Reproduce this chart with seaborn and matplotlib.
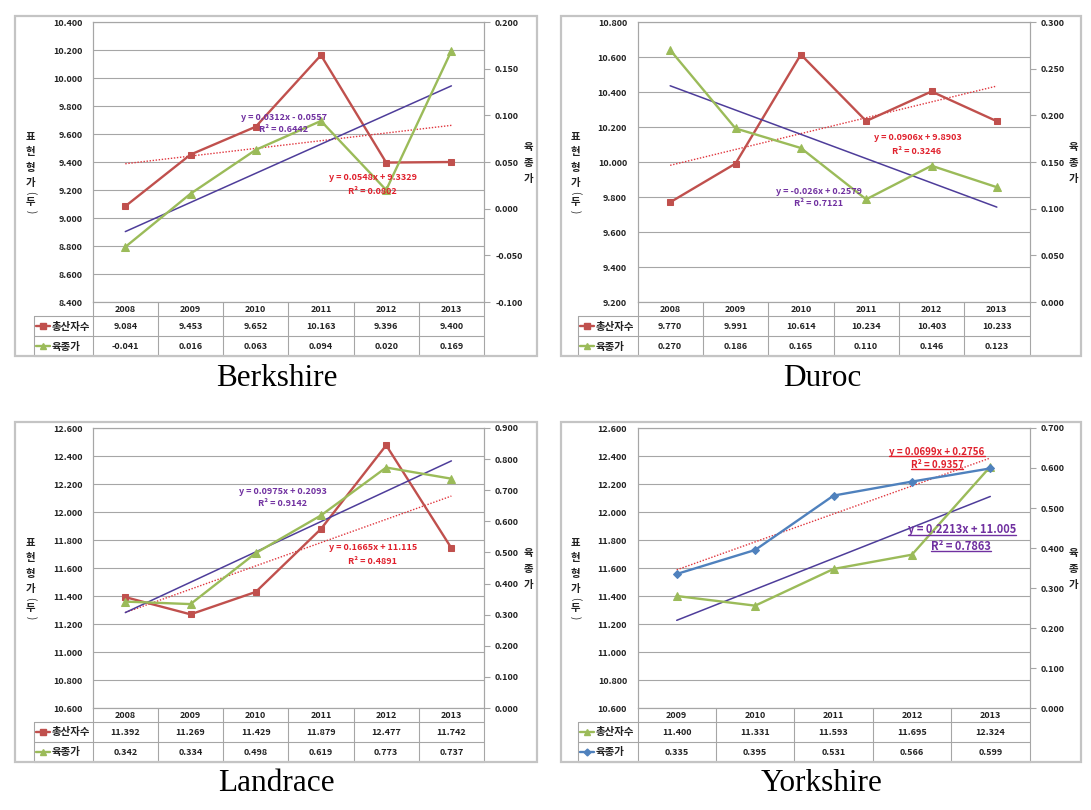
import numpy as np
import matplotlib
matplotlib.use("Agg")
import matplotlib.pyplot as plt
from matplotlib.lines import Line2D
from matplotlib.patches import Rectangle
import seaborn as sns

sns.set_style("white")
plt.rcParams['font.family'] = ['Noto Sans CJK KR', 'DejaVu Sans']

# ---------------- data ----------------
years_bld = ["2008", "2009", "2010", "2011", "2012", "2013"]
years_york = ["2009", "2010", "2011", "2012", "2013"]

berk_total = [9.084, 9.453, 9.652, 10.163, 9.396, 9.400]
berk_breed = [-0.041, 0.016, 0.063, 0.094, 0.020, 0.169]
berk_total_lbl = ["9.084", "9.453", "9.652", "10.163", "9.396", "9.400"]
berk_breed_lbl = ["-0.041", "0.016", "0.063", "0.094", "0.020", "0.169"]

duroc_total = [9.770, 9.991, 10.614, 10.234, 10.403, 10.233]
duroc_breed = [0.270, 0.186, 0.165, 0.110, 0.146, 0.123]
duroc_total_lbl = ["9.770", "9.991", "10.614", "10.234", "10.403", "10.233"]
duroc_breed_lbl = ["0.270", "0.186", "0.165", "0.110", "0.146", "0.123"]

land_total = [11.392, 11.269, 11.429, 11.879, 12.477, 11.742]
land_breed = [0.342, 0.334, 0.498, 0.619, 0.773, 0.737]
land_total_lbl = ["11.392", "11.269", "11.429", "11.879", "12.477", "11.742"]
land_breed_lbl = ["0.342", "0.334", "0.498", "0.619", "0.773", "0.737"]

york_total = [11.400, 11.331, 11.593, 11.695, 12.324]
york_breed = [0.335, 0.395, 0.531, 0.566, 0.599]
york_total_lbl = ["11.400", "11.331", "11.593", "11.695", "12.324"]
york_breed_lbl = ["0.335", "0.395", "0.531", "0.566", "0.599"]

series_names = ["총산자수", "육종가"]
left_label = "표현형가(두)"
right_label = "육종가"

berk_eq = ["y = 0.0312x - 0.0557", "R² = 0.6442", "y = 0.0548x + 9.3329", "R² = 0.0802"]
duroc_eq = ["y = -0.026x + 0.2579", "R² = 0.7121", "y = 0.0906x + 9.8903", "R² = 0.3246"]
land_eq = ["y = 0.0975x + 0.2093", "R² = 0.9142", "y = 0.1665x + 11.115", "R² = 0.4891"]
york_eq = ["y = 0.2213x + 11.005", "R² = 0.7863", "y = 0.0699x + 0.2756", "R² = 0.9357"]

titles = ["Berkshire", "Duroc", "Landrace", "Yorkshire"]

# ---------------- style ----------------
W, H = 1091, 810
RED = "#C0504D"
GREEN = "#9BBB59"
BLUE = "#4F81BD"
PURPLE_LINE = "#4E3D9A"
RED_TREND = "#E0353D"
PURPLE_TXT = "#7030A0"
RED_TXT = "#E0202C"
GRID = "#A6A6A6"
FRAME = "#C4C4C4"
TXT = "#222222"

fig = plt.figure(figsize=(W / 100, H / 100), dpi=100)
fig.patch.set_facecolor("white")


def fx(px):
    return px / W


def fy(py):
    return 1 - py / H


panels = [
    dict(title=titles[0], years=years_bld, total=berk_total, breed=berk_breed,
         tl=berk_total_lbl, bl=berk_breed_lbl, ylim=(8.4, 10.4), ystep=0.2,
         y2lim=(-0.1, 0.2), y2step=0.05, box=(92.7, 22, 484, 302), frame=(14.5, 16, 537, 356),
         legleft=33.5, tpos=(277, 386), tot_style=(RED, 's', 5), bre_style=(GREEN, '^', 5.5),
         trend_total="red", trend_breed="purple", eq=berk_eq,
         eqpos=[(284, 117), (284, 129), (373, 178), (372, 191)], eqsize=[6.5, 6.5, 6.5, 6.5],
         eqcol=[PURPLE_TXT, PURPLE_TXT, RED_TXT, RED_TXT], underline=False),
    dict(title=titles[1], years=years_bld, total=duroc_total, breed=duroc_breed,
         tl=duroc_total_lbl, bl=duroc_breed_lbl, ylim=(9.2, 10.8), ystep=0.2,
         y2lim=(0.0, 0.3), y2step=0.05, box=(637.5, 22, 1029.5, 302), frame=(560.5, 16, 1081, 356),
         legleft=578, tpos=(822, 386), tot_style=(RED, 's', 5), bre_style=(GREEN, '^', 5.5),
         trend_total="red", trend_breed="purple", eq=duroc_eq,
         eqpos=[(819, 192), (819, 203), (918, 138), (917, 151)], eqsize=[6.5, 6.5, 6.5, 6.5],
         eqcol=[PURPLE_TXT, PURPLE_TXT, RED_TXT, RED_TXT], underline=False),
    dict(title=titles[2], years=years_bld, total=land_total, breed=land_breed,
         tl=land_total_lbl, bl=land_breed_lbl, ylim=(10.6, 12.6), ystep=0.2,
         y2lim=(0.0, 0.9), y2step=0.1, box=(92.7, 428, 484, 708), frame=(14.5, 422, 537, 762),
         legleft=33.5, tpos=(276, 791), tot_style=(RED, 's', 5), bre_style=(GREEN, '^', 5.5),
         trend_total="red", trend_breed="purple", eq=land_eq,
         eqpos=[(283, 492), (283, 504), (373, 548), (373, 561)], eqsize=[6.5, 6.5, 6.5, 6.5],
         eqcol=[PURPLE_TXT, PURPLE_TXT, RED_TXT, RED_TXT], underline=False),
    dict(title=titles[3], years=years_york, total=york_total, breed=york_breed,
         tl=york_total_lbl, bl=york_breed_lbl, ylim=(10.6, 12.6), ystep=0.2,
         y2lim=(0.0, 0.7), y2step=0.1, box=(637.5, 428, 1029.5, 708), frame=(560.5, 422, 1081, 762),
         legleft=578, tpos=(822, 791), tot_style=(GREEN, '^', 5.5), bre_style=(BLUE, 'D', 4),
         trend_total="purple", trend_breed="red", eq=york_eq,
         eqpos=[(962, 530), (961, 546), (937, 452), (937, 465)], eqsize=[8.0, 8.0, 7.0, 7.0],
         eqcol=[PURPLE_TXT, PURPLE_TXT, RED_TXT, RED_TXT], underline=True),
]

underline_texts = []


def trend(kind, axis_, xs, vals):
    if kind == "red":
        kws = dict(color=RED_TREND, lw=1.0, ls=(0, (1, 1.2)))
    else:
        kws = dict(color=PURPLE_LINE, lw=1.1, ls="-")
    sns.regplot(x=xs, y=np.array(vals), ax=axis_, scatter=False, ci=None,
                truncate=True, line_kws=kws)


for p in panels:
    l, t, r, b = p["box"]
    n = len(p["years"])
    xs = np.arange(n)

    # frame
    fl, ft, fr, fb = p["frame"]
    fig.add_artist(Rectangle((fx(fl), fy(fb)), fx(fr) - fx(fl), fy(ft) - fy(fb),
                             transform=fig.transFigure, fill=False, edgecolor=FRAME, lw=1.6))

    ax = fig.add_axes([fx(l), fy(b), fx(r) - fx(l), fy(t) - fy(b)])
    ax.set_facecolor("none")
    ax2 = ax.twinx()
    ax2.set_facecolor("none")

    trend(p["trend_total"], ax, xs, p["total"])
    trend(p["trend_breed"], ax2, xs, p["breed"])

    c, m, ms = p["tot_style"]
    sns.lineplot(x=xs, y=np.array(p["total"]), ax=ax, color=c, marker=m, markersize=ms,
                 markeredgecolor=c, linewidth=1.7)
    c, m, ms = p["bre_style"]
    sns.lineplot(x=xs, y=np.array(p["breed"]), ax=ax2, color=c, marker=m, markersize=ms,
                 markeredgecolor=c, linewidth=1.7)

    ax.set_xlim(-0.5, n - 0.5)
    ax2.set_xlim(-0.5, n - 0.5)
    ax.set_ylim(*p["ylim"])
    ax2.set_ylim(*p["y2lim"])
    yt = np.arange(p["ylim"][0], p["ylim"][1] + 1e-9, p["ystep"])
    y2t = np.arange(p["y2lim"][0], p["y2lim"][1] + 1e-9, p["y2step"])
    ax.set_yticks(yt)
    ax.set_yticklabels([f"{v:.3f}" for v in yt])
    ax2.set_yticks(y2t)
    ax2.set_yticklabels([f"{v:.3f}" for v in y2t])
    ax.set_xticks([])
    ax2.set_xticks([])
    for a in (ax, ax2):
        a.set_xlabel("")
        a.set_ylabel("")
    ax.grid(axis="y", color=GRID, lw=0.8)
    ax.grid(axis="x", visible=False)
    ax2.grid(False)
    ax.tick_params(axis="y", length=0, pad=7.5, labelsize=6.5, labelcolor=TXT)
    ax2.tick_params(axis="y", direction="out", length=4, width=0.8, color=GRID,
                    pad=4, labelsize=6.5, labelcolor=TXT)
    for lab in ax.get_yticklabels() + ax2.get_yticklabels():
        lab.set_fontweight("bold")
    for a in (ax, ax2):
        for s in a.spines.values():
            s.set_color(GRID)
            s.set_linewidth(0.8)

    # axis labels (stacked characters)
    lx = l - 62
    offs = [115, 130, 146, 161]
    for ch, o in zip(left_label[:4], offs):
        fig.text(fx(lx), fy(t + o), ch, ha="center", va="center", fontsize=7.5,
                 fontweight="bold", color=TXT)
    fig.text(fx(lx), fy(t + 171), left_label[4], ha="center", va="center", fontsize=7,
             rotation=-90, color=TXT)
    fig.text(fx(lx), fy(t + 180), left_label[5], ha="center", va="center", fontsize=7.5,
             fontweight="bold", color=TXT)
    fig.text(fx(lx), fy(t + 190), left_label[6], ha="center", va="center", fontsize=7,
             rotation=-90, color=TXT)
    rx = r + 44
    for ch, o in zip(right_label, [125, 141, 157]):
        fig.text(fx(rx), fy(t + o), ch, ha="center", va="center", fontsize=7.5,
                 fontweight="bold", color=TXT)

    # data table
    colw = (r - l) / n
    wleg = (l - p["legleft"]) / colw
    tb = b + 54
    axt = fig.add_axes([fx(p["legleft"]), fy(tb), fx(r) - fx(p["legleft"]), fy(b) - fy(tb)])
    axt.set_xlim(-0.5 - wleg, n - 0.5)
    axt.set_ylim(54, 0)
    axt.axis("off")
    x0 = -0.5 - wleg
    for yy in (13.5, 33.5, 54):
        axt.plot([x0, n - 0.5], [yy, yy], color=GRID, lw=0.8, clip_on=False)
    for k in range(n + 1):
        axt.plot([k - 0.5, k - 0.5], [0, 54], color=GRID, lw=0.8, clip_on=False)
    axt.plot([x0, x0], [13.5, 54], color=GRID, lw=0.8, clip_on=False)
    for i, yr in enumerate(p["years"]):
        axt.text(i, 7.3, yr, ha="center", va="center", fontsize=6.5, fontweight="bold", color=TXT)
        axt.text(i, 24.5, p["tl"][i], ha="center", va="center", fontsize=6.5,
                 fontweight="bold", color=TXT)
        axt.text(i, 44.5, p["bl"][i], ha="center", va="center", fontsize=6.5,
                 fontweight="bold", color=TXT)
    px2d = 1 / colw
    for (c, m, ms), yy, name in ((p["tot_style"], 23.5, series_names[0]),
                                 (p["bre_style"], 43.5, series_names[1])):
        xa = x0 + 2 * px2d
        xb = x0 + 16 * px2d
        axt.plot([xa, xb], [yy, yy], color=c, lw=1.7, clip_on=False)
        axt.plot([(xa + xb) / 2], [yy], marker=m, color=c, markersize=ms - 0.5, clip_on=False)
        axt.text(x0 + 18 * px2d, yy + 1, name, ha="left", va="center", fontsize=7.5,
                 fontweight="bold", color=TXT)

    # trendline equations
    for s, (ex, ey), fs, col in zip(p["eq"], p["eqpos"], p["eqsize"], p["eqcol"]):
        tx = fig.text(fx(ex), fy(ey), s, ha="center", va="center", fontsize=fs,
                      fontweight="bold", color=col)
        if p["underline"]:
            underline_texts.append((tx, col))

    # title
    fig.text(fx(p["tpos"][0]), fy(p["tpos"][1]), p["title"], ha="center", va="baseline",
             fontsize=22.5, family="Liberation Serif", color="black")

# underlines for the Yorkshire equations
fig.canvas.draw()
rend = fig.canvas.get_renderer()
for tx, col in underline_texts:
    bb = tx.get_window_extent(renderer=rend)
    yline = bb.y0 + 1.5
    fig.add_artist(Line2D([bb.x0 / W, bb.x1 / W], [yline / H, yline / H],
                          transform=fig.transFigure, color=col, lw=1.0))

fig.savefig("out.png", dpi=100, facecolor="white")
